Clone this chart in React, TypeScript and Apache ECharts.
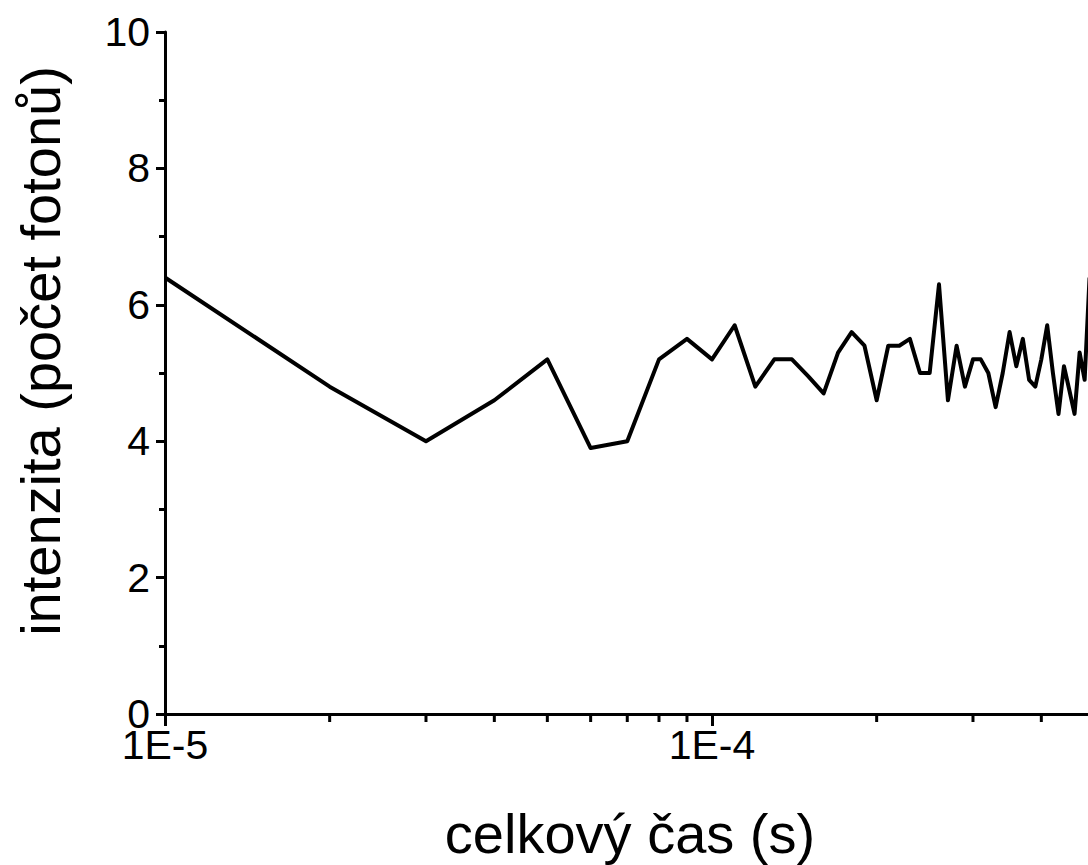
import React, { useEffect, useRef } from "react";
import * as echarts from "echarts";

// Total elapsed time (s) for each bin
const times = [
  1e-5, 2e-5, 3e-5, 4e-5, 5e-5, 6e-5, 7e-5, 8e-5, 9e-5,
  1.0e-4, 1.1e-4, 1.2e-4, 1.3e-4, 1.4e-4, 1.5e-4, 1.6e-4, 1.7e-4, 1.8e-4, 1.9e-4,
  2.0e-4, 2.1e-4, 2.2e-4, 2.3e-4, 2.4e-4, 2.5e-4, 2.6e-4, 2.7e-4, 2.8e-4, 2.9e-4,
  3.0e-4, 3.1e-4, 3.2e-4, 3.3e-4, 3.4e-4, 3.5e-4, 3.6e-4, 3.7e-4, 3.8e-4, 3.9e-4,
  4.0e-4, 4.1e-4, 4.2e-4, 4.3e-4, 4.4e-4, 4.5e-4, 4.6e-4, 4.7e-4, 4.8e-4, 4.9e-4,
];

// Mean photon count per bin
const intensity = [
  6.4, 4.8, 4.0, 4.6, 5.2, 3.9, 4.0, 5.2, 5.5,
  5.2, 5.7, 4.8, 5.2, 5.2, 4.95, 4.7, 5.3, 5.6, 5.4,
  4.6, 5.4, 5.4, 5.5, 5.0, 5.0, 6.3, 4.6, 5.4, 4.8,
  5.2, 5.2, 5.0, 4.5, 5.0, 5.6, 5.1, 5.5, 4.9, 4.8,
  5.2, 5.7, 5.0, 4.4, 5.1, 4.75, 4.4, 5.3, 4.9, 6.4,
];

// Minor tick positions on the logarithmic time axis
const minorTimes = [
  2e-5, 3e-5, 4e-5, 5e-5, 6e-5, 7e-5, 8e-5, 9e-5,
  2e-4, 3e-4, 4e-4, 5e-4, 6e-4, 7e-4, 8e-4, 9e-4,
];

// Decades labelled on the time axis
const labelledExponents = [-5, -4];

const xTitle = "celkový čas (s)";
const yTitle = "intenzita (počet fotonů)";

const FONT = '"Liberation Sans", Arial, Helvetica, sans-serif';

export default function App() {
  const ref = useRef<HTMLDivElement>(null);

  useEffect(() => {
    const chart = echarts.init(ref.current!, null, { renderer: "svg" });
    chart.setOption({
      animation: false,
      backgroundColor: "#ffffff",
      grid: {
        left: 165,
        top: 32,
        bottom: 151,
        right: -171,
        outerBoundsMode: "none",
      },
      xAxis: {
        type: "log",
        logBase: 10,
        min: 1e-5,
        max: 1e-3,
        axisLine: { show: true, lineStyle: { color: "#000", width: 3 } },
        axisTick: { show: true, length: 12, lineStyle: { color: "#000", width: 3 } },
        minorTick: { show: false },
        splitLine: { show: false },
        axisLabel: {
          color: "#000",
          fontSize: 41,
          fontFamily: FONT,
          margin: 10,
          showMaxLabel: false,
          formatter: (v: number) => {
            const e = Math.round(Math.log10(v));
            return labelledExponents.includes(e) ? "1E" + e : "";
          },
        },
      },
      yAxis: {
        type: "value",
        min: 0,
        max: 10,
        interval: 2,
        axisLine: { show: true, lineStyle: { color: "#000", width: 3 } },
        axisTick: { show: true, length: 9, lineStyle: { color: "#000", width: 3 } },
        minorTick: { show: true, splitNumber: 2, length: 6, lineStyle: { color: "#000", width: 3 } },
        splitLine: { show: false },
        minorSplitLine: { show: false },
        axisLabel: {
          color: "#000",
          fontSize: 41,
          fontFamily: FONT,
          margin: 15,
        },
      },
      graphic: [
        {
          type: "text",
          x: 630,
          y: 833,
          style: {
            text: xTitle,
            fontSize: 56,
            fontFamily: FONT,
            fill: "#000",
            align: "center",
            verticalAlign: "middle",
          },
        },
        {
          type: "text",
          x: 40,
          y: 351,
          rotation: Math.PI / 2,
          style: {
            text: yTitle,
            fontSize: 56,
            fontFamily: FONT,
            fill: "#000",
            align: "center",
            verticalAlign: "middle",
          },
        },
      ],
      series: [
        {
          type: "line",
          data: times.map((t, i) => [t, intensity[i]]),
          symbol: "none",
          lineStyle: { color: "#000", width: 4, join: "round" },
          z: 4,
        },
        {
          type: "custom",
          silent: true,
          clip: false,
          data: minorTimes.map((t) => [t, 0]),
          renderItem: (_params: any, api: any) => {
            const p = api.coord([api.value(0), 0]);
            return {
              type: "line",
              shape: { x1: p[0], y1: p[1], x2: p[0], y2: p[1] + 8 },
              style: { stroke: "#000", lineWidth: 3 },
            };
          },
          z: 3,
        },
      ],
    });
    return () => chart.dispose();
  }, []);

  return (
    <div
      ref={ref}
      style={{ position: "fixed", left: 0, top: 0, width: 1088, height: 865, background: "#fff" }}
    />
  );
}
